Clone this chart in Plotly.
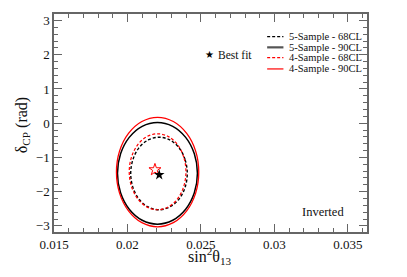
import plotly.graph_objects as go

# ---- data ----
# 5-Sample 90% CL contour (black solid)
s5_90_x = [0.02476, 0.02455, 0.02396, 0.02308, 0.02204, 0.02100, 0.02012, 0.01953, 0.01932,
           0.01953, 0.02012, 0.02100, 0.02204, 0.02308, 0.02396, 0.02455, 0.02476]
s5_90_y = [-1.465, -0.896, -0.415, -0.093, 0.020, -0.093, -0.415, -0.896, -1.465,
           -2.034, -2.515, -2.837, -2.950, -2.837, -2.515, -2.034, -1.465]
# 4-Sample 90% CL contour (red solid)
s4_90_x = [0.02485, 0.02464, 0.02403, 0.02312, 0.02205, 0.02098, 0.02007, 0.01946, 0.01925,
           0.01946, 0.02007, 0.02098, 0.02205, 0.02312, 0.02403, 0.02464, 0.02485]
s4_90_y = [-1.43, -0.817, -0.299, 0.048, 0.17, 0.048, -0.299, -0.817, -1.43,
           -2.043, -2.561, -2.908, -3.03, -2.908, -2.561, -2.043, -1.43]
# 5-Sample 68% CL contour (black dashed)
s5_68_x = [0.02407, 0.02392, 0.02351, 0.02288, 0.02215, 0.02141, 0.02078, 0.02037, 0.02022,
           0.02037, 0.02078, 0.02141, 0.02215, 0.02288, 0.02351, 0.02392, 0.02407]
s5_68_y = [-1.47, -1.064, -0.721, -0.491, -0.41, -0.491, -0.721, -1.064, -1.47,
           -1.876, -2.219, -2.449, -2.53, -2.449, -2.219, -1.876, -1.47]
# 4-Sample 68% CL contour (red dashed)
s4_68_x = [0.02398, 0.02383, 0.02342, 0.02279, 0.02205, 0.02131, 0.02069, 0.02027, 0.02012,
           0.02027, 0.02069, 0.02131, 0.02205, 0.02279, 0.02342, 0.02383, 0.02398]
s4_68_y = [-1.42, -0.995, -0.635, -0.394, -0.31, -0.394, -0.635, -0.995, -1.42,
           -1.845, -2.205, -2.446, -2.53, -2.446, -2.205, -1.845, -1.42]
# best-fit points
bf5_x, bf5_y = [0.02216], [-1.51]
bf4_x, bf4_y = [0.02187], [-1.36]

legend_labels = ["5-Sample - 68CL", "5-Sample - 90CL", "4-Sample - 68CL", "4-Sample - 90CL"]
x_ticks = [0.015, 0.02, 0.025, 0.03, 0.035]
x_ticklabels = ["0.015", "0.02", "0.025", "0.03", "0.035"]
y_ticks = [-3, -2, -1, 0, 1, 2, 3]

FONT = "Liberation Serif, Times New Roman, serif"

fig = go.Figure()
line_kw = dict(mode="lines", line_shape="spline", showlegend=False, hoverinfo="skip")
fig.add_trace(go.Scatter(x=s5_68_x, y=s5_68_y, line=dict(color="black", width=1.4, dash="3px,2px"), **line_kw))
fig.add_trace(go.Scatter(x=s4_68_x, y=s4_68_y, line=dict(color="red", width=1.2, dash="3px,2px"), **line_kw))
fig.add_trace(go.Scatter(x=s5_90_x, y=s5_90_y, line=dict(color="black", width=1.5), **line_kw))
fig.add_trace(go.Scatter(x=s4_90_x, y=s4_90_y, line=dict(color="red", width=1.3), **line_kw))
fig.add_trace(go.Scatter(x=bf4_x, y=bf4_y, mode="markers", showlegend=False,
                         marker=dict(symbol="star-open", size=9, color="red", line=dict(width=1, color="red"))))
fig.add_trace(go.Scatter(x=bf5_x, y=bf5_y, mode="markers", showlegend=False,
                         marker=dict(symbol="star", size=8, color="black")))

axis_common = dict(
    showgrid=False, zeroline=False, showline=True, linecolor="#666", linewidth=1.5,
    mirror="ticks", ticks="inside", ticklen=8, tickwidth=1, tickcolor="#666",
    tickfont=dict(family=FONT, size=13, color="#111"),
)
fig.update_xaxes(range=[0.015, 0.0363], tickvals=x_ticks, ticktext=x_ticklabels,
                 minor=dict(dtick=0.001, ticks="inside", ticklen=4, tickcolor="#666", showgrid=False),
                 **axis_common)
fig.update_yaxes(range=[-3.18, 3.19], tickvals=y_ticks,
                 minor=dict(dtick=0.2, ticks="inside", ticklen=4, tickcolor="#666", showgrid=False),
                 **axis_common)

# axis titles as annotations for exact placement
fig.add_annotation(xref="paper", yref="paper", x=0.498, y=0, yshift=-24, text="sin<sup>2</sup>θ<sub>13</sub>",
                   showarrow=False, xanchor="center", yanchor="middle",
                   font=dict(family=FONT, size=16, color="#111"))
fig.add_annotation(xref="paper", yref="paper", x=0, xshift=-32, y=0.49, text="δ<sub>CP</sub> (rad)",
                   showarrow=False, textangle=-90, xanchor="center", yanchor="middle",
                   font=dict(family=FONT, size=16, color="#111"))

# manual legend
rows_y = [0.896, 0.847, 0.800, 0.748]
styles = [dict(color="black", width=1.3, dash="3px,2px"),
          dict(color="#555", width=2.2),
          dict(color="red", width=1.2, dash="3px,2px"),
          dict(color="red", width=1.2)]
for lab, yy, st in zip(legend_labels, rows_y, styles):
    fig.add_shape(type="line", xref="paper", yref="paper", x0=0.681, x1=0.733, y0=yy, y1=yy, line=st)
    fig.add_annotation(xref="paper", yref="paper", x=0.745, y=yy, text=lab, showarrow=False,
                       xanchor="left", yanchor="middle", font=dict(family=FONT, size=10.5, color="#111"))

fig.add_annotation(xref="paper", yref="paper", x=0.498, y=0.812, text="★", showarrow=False,
                   xanchor="center", yanchor="middle", font=dict(family="DejaVu Sans", size=10, color="black"))
fig.add_annotation(xref="paper", yref="paper", x=0.517, y=0.812, text="Best fit", showarrow=False,
                   xanchor="left", yanchor="middle", font=dict(family=FONT, size=11.5, color="#111"))
fig.add_annotation(xref="paper", yref="paper", x=0.858, y=0.094, text="Inverted", showarrow=False,
                   xanchor="center", yanchor="middle", font=dict(family=FONT, size=12.5, color="#111"))

fig.update_layout(width=407, height=277, margin=dict(l=54, r=40, t=14, b=45),
                  paper_bgcolor="white", plot_bgcolor="white", showlegend=False)
fig.write_html("out.html", config={"displayModeBar": False},
               post_script="document.body.style.margin='0';document.body.style.overflow='hidden';")
